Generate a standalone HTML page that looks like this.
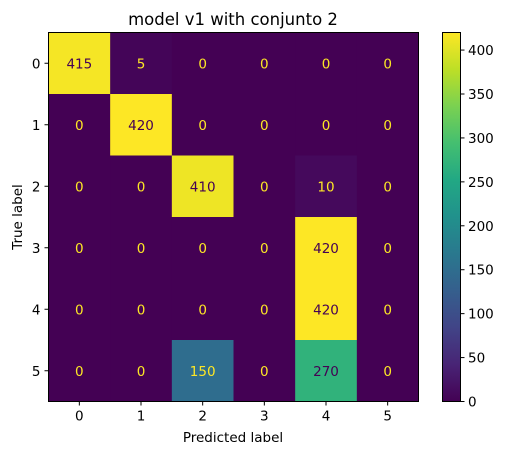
<!DOCTYPE html>
<html><head><meta charset="utf-8"><style>
body{margin:0;background:#fff;}
svg text{font-family:"DejaVu Sans","Liberation Sans",sans-serif;}
</style></head><body>
<svg id="chart" width="507" height="455" xmlns="http://www.w3.org/2000/svg">
<defs><linearGradient id="vir" x1="0" y1="1" x2="0" y2="0">
<stop offset="0" stop-color="#440154"/><stop offset="0.1" stop-color="#482475"/><stop offset="0.2" stop-color="#414487"/><stop offset="0.3" stop-color="#355f8d"/><stop offset="0.4" stop-color="#2a788e"/><stop offset="0.5" stop-color="#21918c"/><stop offset="0.6" stop-color="#22a884"/><stop offset="0.7" stop-color="#44bf70"/><stop offset="0.8" stop-color="#7ad151"/><stop offset="0.9" stop-color="#bddf26"/><stop offset="1" stop-color="#fde725"/>
</linearGradient></defs>
<text x="233" y="25" font-size="16.5" text-anchor="middle">model v1 with conjunto 2</text>
<g id="cells"></g>
<rect x="48.5" y="32.5" width="370" height="369" fill="none" stroke="#000" stroke-width="1"/>
<g id="axes"></g>
<text x="0" y="0" font-size="13.5" text-anchor="middle" transform="translate(22,217) rotate(-90)">True label</text>
<text x="233" y="442" font-size="13.5" text-anchor="middle">Predicted label</text>
<rect x="442.5" y="32.5" width="18" height="369" fill="url(#vir)" stroke="#000" stroke-width="1"/>
<g id="cbar"></g>
</svg>
<script>
const labels=["0","1","2","3","4","5"];
const matrix=[
[415,5,0,0,0,0],
[0,420,0,0,0,0],
[0,0,410,0,10,0],
[0,0,0,0,420,0],
[0,0,0,0,420,0],
[0,0,150,0,270,0]];
const cbarTicks=[0,50,100,150,200,250,300,350,400];
const vmin=0,vmax=420;
const L=48.5,T=32.5,W=370,H=369,n=labels.length,cw=W/n,ch=H/n;
const stops=["#440154","#482475","#414487","#355f8d","#2a788e","#21918c","#22a884","#44bf70","#7ad151","#bddf26","#fde725"];
function hex(h){return[1,3,5].map(i=>parseInt(h.substr(i,2),16));}
function viridis(t){t=Math.max(0,Math.min(1,t));const p=t*10,i=Math.min(9,Math.floor(p)),f=p-i;const a=hex(stops[i]),b=hex(stops[i+1]);return"rgb("+a.map((v,k)=>Math.round(v+(b[k]-v)*f)).join(",")+")";}
const NS="http://www.w3.org/2000/svg";
function mk(tag,attrs,parent,txt){const e=document.createElementNS(NS,tag);for(const k in attrs)e.setAttribute(k,attrs[k]);if(txt!==undefined)e.textContent=txt;parent.appendChild(e);return e;}
const cells=document.getElementById('cells'),axes=document.getElementById('axes'),cbar=document.getElementById('cbar');
const thr=(vmax+vmin)/2;
matrix.forEach((row,r)=>row.forEach((v,c)=>{
 const rc=mk('rect',{x:L+c*cw,y:T+r*ch,width:cw+0.5,height:ch+0.5,fill:viridis((v-vmin)/(vmax-vmin))},cells);
 
 
 const t=mk('text',{x:L+(c+0.5)*cw,y:T+(r+0.5)*ch+5,'font-size':13.5,'text-anchor':'middle',fill:v>thr?'#440154':'#fde725'},cells,String(v));
 
 
}));
labels.forEach((lb,i)=>{
 const x=L+(i+0.5)*cw,y=T+(i+0.5)*ch;
 mk('line',{x1:x,x2:x,y1:T+H,y2:T+H+4,stroke:'#000'},axes);
 const tx=mk('text',{x:x,y:T+H+19,'font-size':13.5,'text-anchor':'middle'},axes,lb);
 
 
 mk('line',{x1:L-4,x2:L,y1:y,y2:y,stroke:'#000'},axes);
 const ty=mk('text',{x:L-8,y:y+5,'font-size':13.5,'text-anchor':'end'},axes,lb);
 
 
});
cbarTicks.forEach(v=>{
 const y=401.5-(v-vmin)/(vmax-vmin)*369;
 mk('line',{x1:460.5,x2:464.5,y1:y,y2:y,stroke:'#000'},cbar);
 const t=mk('text',{x:468,y:y+5,'font-size':13.5},cbar,String(v));
 
 
});
</script>
</body></html>
